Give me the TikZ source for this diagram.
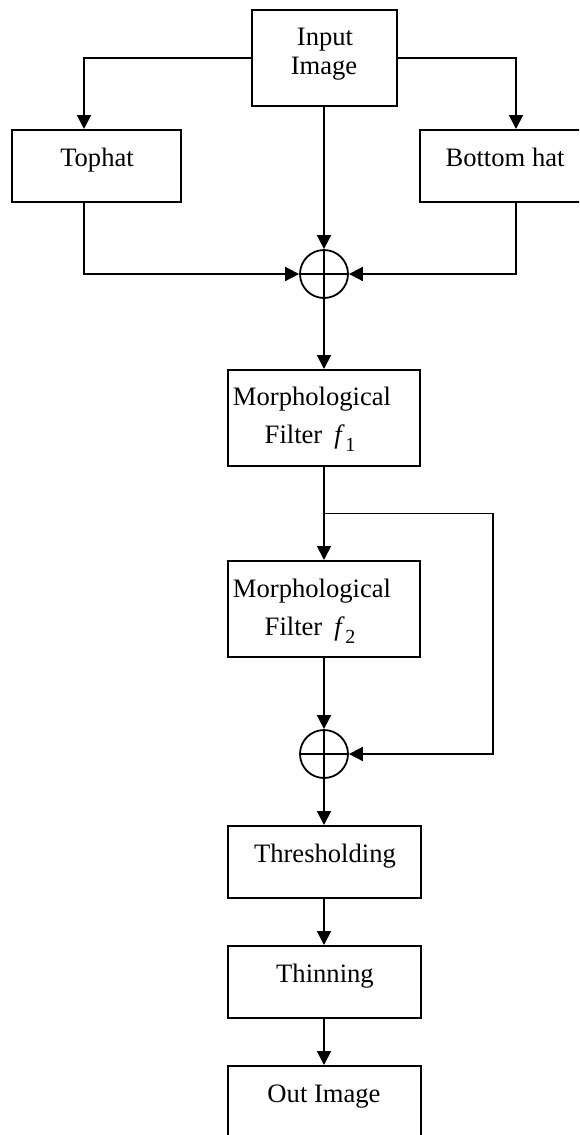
\documentclass[tikz,border=0pt]{standalone}
\usepackage{fontspec}
\setmainfont{Liberation Serif}
\usetikzlibrary{arrows.meta,calc}
\newcommand{\subone}[1]{\textit{f}\kern0.5pt\raisebox{-8.5pt}{\fontsize{20}{20}\selectfont #1}}
\begin{document}
\begin{tikzpicture}[x=1pt,y=-1pt,
  boxnode/.style={draw,rectangle,line width=2pt,inner sep=0pt},
  sumnode/.style={draw,circle,line width=1.8pt,minimum size=48pt,inner sep=0pt},
  txt/.style={anchor=base,inner sep=0pt,font=\fontsize{26.6}{32}\selectfont},
  conn/.style={line width=1.8pt},
  arr/.style={line width=1.8pt,-{Triangle[length=14pt,width=14pt]}}]
\useasboundingbox (0,0) rectangle (579,1135);
\begin{scope}
\clip (0,0) rectangle (579,1135);
% boxes
\node[boxnode,minimum width=145pt,minimum height=96pt] (in) at (324,58) {};
\node[boxnode,minimum width=169pt,minimum height=72pt] (top) at (96.5,166) {};
\node[boxnode,minimum width=169pt,minimum height=72pt] (bot) at (504.5,166) {};
\node[sumnode] (s1) at (324,274) {};
\node[boxnode,minimum width=192pt,minimum height=96pt] (f1) at (324,418) {};
\node[boxnode,minimum width=192pt,minimum height=96pt] (f2) at (324,609) {};
\node[sumnode] (s2) at (324,754) {};
\node[boxnode,minimum width=193pt,minimum height=72pt] (th) at (324,862) {};
\node[boxnode,minimum width=193pt,minimum height=72pt] (thin) at (324,982) {};
\node[boxnode,minimum width=193pt,minimum height=72pt] (out) at (324,1102) {};
% texts
\node[txt] (inT1) at (325,45) {Input};
\node[txt] (inT2) at (324,74) {Image};
\node[txt] (topT) at (97,166) {Tophat};
\node[txt] (botT) at (505,166) {Bottom hat};
\node[txt] (f1T1) at (312,405) {Morphological};
\node[txt] (f1T2) at (310,443) {Filter\hspace{12pt}\subone{1}};
\node[txt] (f2T1) at (312,597) {Morphological};
\node[txt] (f2T2) at (310,635) {Filter\hspace{12pt}\subone{2}};
\node[txt] (thT) at (325,862) {Thresholding};
\node[txt] (thinT) at (325,982) {Thinning};
\node[txt] (outT) at (324,1102) {Out Image};
% plus signs
\draw[conn] (s1.west) -- (s1.east);
\draw[conn] (s1.north) -- (s1.south);
\draw[conn] (s2.west) -- (s2.east);
\draw[conn] (s2.north) -- (s2.south);
% connectors
\draw[arr] (in.west) -| ([xshift=-12.5pt]top.north);
\draw[arr] (in.east) -| ([xshift=11.5pt]bot.north);
\draw[arr] (in.south) -- (s1.north);
\draw[arr] ([xshift=-12.5pt]top.south) |- (s1.west);
\draw[arr] ([xshift=11.5pt]bot.south) |- (s1.east);
\draw[arr] (s1.south) -- (f1.north);
\draw[arr] (f1.south) -- (f2.north);
\coordinate (br) at ($(f1.south)!0.5!(f2.north)$);
\draw[arr] (br) -- ++(169,0) |- (s2.east);
\draw[arr] (f2.south) -- (s2.north);
\draw[arr] (s2.south) -- (th.north);
\draw[arr] (th.south) -- (thin.north);
\draw[arr] (thin.south) -- (out.north);
\end{scope}
\end{tikzpicture}
\end{document}
